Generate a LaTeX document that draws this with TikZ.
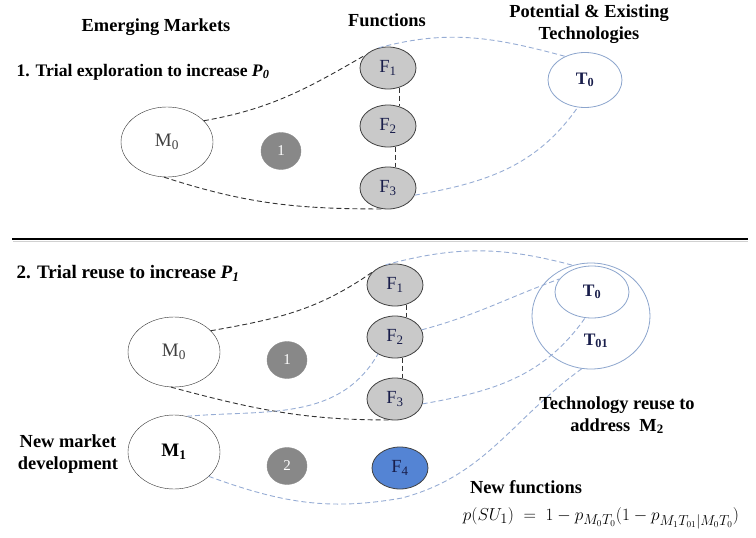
\documentclass[tikz,border=0pt]{standalone}
\usepackage{fontspec}
\setmainfont{Liberation Serif}
\usepackage{tikz}
\usetikzlibrary{shapes.geometric}
\definecolor{fngrey}{RGB}{201,201,201}
\definecolor{numgrey}{RGB}{136,136,136}
\definecolor{fnblue}{RGB}{84,132,212}
\definecolor{techline}{RGB}{140,165,205}
\definecolor{linkblue}{RGB}{150,172,212}
\definecolor{navy}{RGB}{25,30,75}
\colorlet{fnedge}{black!75}

\begin{document}
\begin{tikzpicture}[x=1pt, y=1pt,
  hd/.style={font=\fontsize{18.4}{22}\selectfont\bfseries, align=center},
  mkt/.style={ellipse, draw=black!80, fill=white, minimum width=92, minimum height=70, inner sep=0, font=\fontsize{19}{22}\selectfont, text=black!75},
  fn/.style={ellipse, draw=fnedge, fill=fngrey, thick, minimum width=56, minimum height=42, inner sep=0, font=\fontsize{18.5}{20}\selectfont, text=navy},
  num/.style={ellipse, draw=black!45, fill=numgrey, minimum width=40, minimum height=37, inner sep=0, text=white, font=\fontsize{15}{18}\selectfont},
  tec/.style={ellipse, draw=techline, fill=white, thick, inner sep=0, font=\fontsize{17.5}{20}\selectfont\bfseries, text=navy},
  blk/.style={black!80, dash pattern=on 5pt off 3pt, line width=0.9pt},
  blu/.style={linkblue, dash pattern=on 5pt off 3pt, line width=0.9pt}]
  \useasboundingbox (0,0) rectangle (756,-538);
  % column heads
  \node[hd] (emk) at (156,-27) {Emerging Markets};
  \node[hd] (fun) at (387,-20) {Functions};
  \node[hd] (pet) at (589,-24) {Potential \& Existing\\Technologies};

  % 1. trial exploration
  \node[hd, anchor=west, font=\fontsize{17.6}{22}\selectfont\bfseries] (st1) at (13,-72) {1. Trial exploration to increase \textit{P}\textsubscript{\textit{0}}};
  \node[mkt] (Ma) at (167,-142) {M\textsubscript{0}};
  \node[num] (na) at (281,-151) {1};
  \foreach \i/\y in {1/68,2/126,3/188}
    \node[fn] (Fa\i) at (388,-\y) {F\textsubscript{\i}};
  \node[tec, minimum width=74, minimum height=55] (Ta) at (585,-80) {T\textsubscript{0}};
  \draw[blk] (Ma.30) to[out=10,in=-150] (Fa1.150);
  \draw[blk] (Ma.-95) to[out=-18,in=180] (Fa3.-105);
  \draw[blk] (Fa1.-60) -- (Fa2.60);
  \draw[blk] (Fa2.-70) -- (Fa3.70);
  \draw[blu] (Fa1.115) to[out=15,in=165] (Ta.130);
  \draw[blu] (Fa3.-15) to[out=10,in=-125] (Ta.-105);

  \draw[black!18, line width=1.2pt] (13,-241.2) -- (748,-241.2);
  \draw[line width=2.5pt] (12,-239) -- (748,-239);

  % 2. trial reuse
  \node[hd, anchor=west, font=\fontsize{19}{22}\selectfont\bfseries] (st2) at (13,-273) {2. Trial reuse to increase \textit{P}\textsubscript{\textit{1}}};
  \node[mkt] (Mb) at (174,-352) {M\textsubscript{0}};
  \node[num] (nb) at (287,-360) {1};
  \node[mkt, minimum height=74, font=\fontsize{19}{22}\selectfont\bfseries, text=black] (Mc) at (174,-452) {M\textsubscript{1}};
  \node[num] (nc) at (287,-466) {2};
  \node[hd] (nmd) at (68,-454) {New market\\development};
  \foreach \i/\y in {1/285,2/337,3/399}
    \node[fn] (Fb\i) at (395,-\y) {F\textsubscript{\i}};
  \node[fn, fill=fnblue] (Fb4) at (400,-468) {F\textsubscript{4}};
  \node[tec, minimum width=118, minimum height=106] (Tb) at (591,-316) {};
  \node[tec, minimum width=74, minimum height=52] (Tc) at (592,-292) {T\textsubscript{0}};
  \node[font=\fontsize{17.5}{20}\selectfont\bfseries, text=navy] (t01) at (596,-341) {T\textsubscript{01}};
  \coordinate (bend) at (402,-498);
  \draw[blk] (Mb.30) to[out=10,in=-145] (Fb1.150);
  \draw[blk] (Mb.-95) to[out=-15,in=180] (Fb3.-105);
  \draw[blk] (Fb1.-60) -- (Fb2.60);
  \draw[blk] (Fb2.-70) -- (Fb3.70);
  \draw[blu] (Fb1.115) to[out=15,in=165] (Tb.110);
  \draw[blu] (Fb2.15) to[out=15,in=-160] (Tc.158);
  \draw[blu] (Fb3.-10) to[out=10,in=-125] (Tc.-105);
  \draw[blu] (Mc.70) to[out=5,in=-120] (Fb2.-135);
  \draw[blu] (Mc.-35) to[out=-20,in=190] (bend) to[out=15,in=-144] (Tb.-100);

  \node[hd] (tra) at (617,-415) {Technology reuse to\\address\ \ M\textsubscript{2}};
  \node[hd] (nfn) at (526,-487) {New functions};
  \node[font=\fontsize{19}{22}\selectfont] (eq) at (601,-518) {$p(SU_1) \;=\; 1 - p_{M_0T_0}(1 - p_{M_1T_{01}|M_0T_0})$};
\end{tikzpicture}
\end{document}
